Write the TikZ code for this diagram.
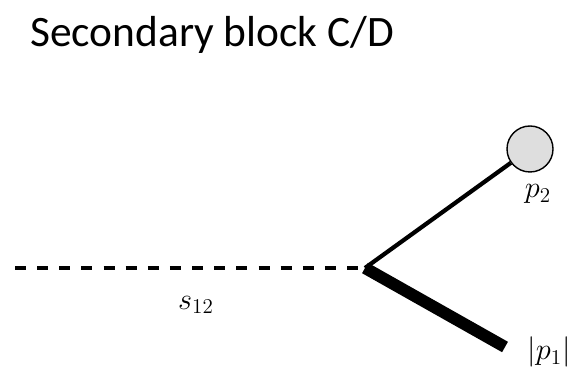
\documentclass[tikz,border=0pt]{standalone}
\usepackage{fontspec}
\setmainfont{Carlito}
\usetikzlibrary{positioning}
\definecolor{blobgray}{RGB}{222,222,222}

\begin{document}
\begin{tikzpicture}[node distance=0.1cm,
    title/.style={font=\fontsize{24.7}{30}\selectfont, anchor=base west, inner sep=0pt},
    lbl/.style={font=\fontsize{17.5}{21}\selectfont, inner sep=0pt},
    blob/.style={circle, draw, fill=blobgray, line width=0.8pt, minimum size=0.92cm, inner sep=0pt},
    scalar/.style={line width=2.3pt, dash pattern=on 6.3pt off 6.3pt},
    light/.style={line width=2.4pt},
    heavy/.style={line width=6.8pt}]
    \useasboundingbox (0,0) rectangle (11.5,7.4);

    \node[title] (head) at (0.6,6.46) {Secondary block C/D};

    \coordinate (start) at (0.3,2.04);
    \coordinate (vertex) at (7.3,2.04);
    \node[blob] (p2blob) at (10.6,4.42) {};
    \coordinate (p1end) at (10.1,0.46);

    \node[lbl] (p2lbl) at (10.76,3.52) {$p_2$};
    \node[lbl] (p1lbl) at (10.98,0.36) {$|p_1|$};
    \node[lbl] (s12lbl) at (3.92,1.3) {$s_{12}$};

    \draw[scalar] (start) -- (vertex);
    \draw[light] (vertex) -- (p2blob);
    \draw[heavy] (vertex) -- (p1end);
\end{tikzpicture}
\end{document}
